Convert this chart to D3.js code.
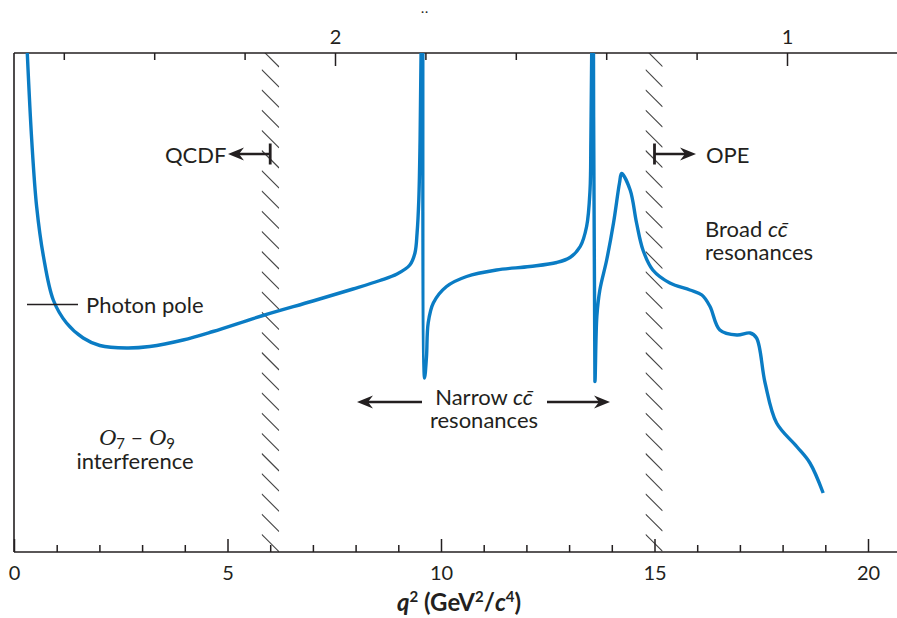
<!DOCTYPE html>
<html><head><meta charset="utf-8">
<script src="https://cdn.jsdelivr.net/npm/d3@7"></script>
<style>
body{margin:0;background:#fff}
svg{display:block}
text{font-family:Lato,"Noto Sans",sans-serif;fill:#231f20}
</style>
</head><body>
<svg id="c" width="897" height="618"></svg>
<script>
// ---- data (y in arbitrary units 0..100) ----
const q2 = [0.31,0.415,0.53,0.69,0.92,1.23,1.62,2.01,2.64,3.18,3.96,4.66,5.83,7.00,7.94,8.57,8.97,9.27,9.39,9.44,9.48,9.51,9.54,9.57,
            9.615,9.66,9.70,9.82,10.13,10.60,11.30,12.08,12.71,13.02,13.26,13.41,13.49,13.51,13.535,13.56,
            13.605,13.65,13.72,13.88,14.04,14.18,14.23,14.43,14.58,14.73,14.96,15.36,15.83,16.11,16.30,16.53,16.93,17.24,17.39,17.59,17.86,18.33,18.64,18.95];
const rate = [100,82.4,69.1,59.1,50.4,45.8,42.8,41.3,40.8,41.1,42.4,44.1,47.3,50.2,52.6,54.3,55.6,57.4,59.8,63.8,70.4,82.4,105,140,
            34.8,39,45.8,49.8,53.1,55.1,56.4,57.1,57.9,58.9,61.1,65.1,72.4,82.4,105,140,
            34.1,47.1,52.4,58.4,65.8,73.8,75.7,72.4,65.8,60.4,56.4,53.8,52.4,51.4,49.1,44.4,43.4,43.8,42.8,33.8,25.8,21.1,17.8,11.8];
const bottomMajor = [0,5,10,15,20];
const bottomMinor = [1,2,3,4,6,7,8,9,11,12,13,14,16,17,18,19];
const topMajor = [2,1];
const topMinor = [2.6,2.4,2.2,1.8,1.6,1.4,1.2];
const bands = [[5.80,6.21],[14.79,15.19]];
const cutLimits = [6,15];

// ---- layout ----
const svg = d3.select("#c");
const L = 14, R = 897, T = 53, B = 552;
const x = d3.scaleLinear([0,20],[14,868]);
const y = d3.scaleLinear([0,100],[552,52]);
const xTop = d3.scaleLinear([2,1],[335,787]);
const ink = "#231f20";
const blue = "#0a7cc4";

// hatched bands
const defs = svg.append("defs");
bands.forEach((b,i)=>{
  const x0 = x(b[0]), x1 = x(b[1]), w = x1-x0;
  defs.append("clipPath").attr("id","bc"+i).append("rect")
    .attr("x",x0).attr("y",T).attr("width",w).attr("height",B-T);
  const g = svg.append("g").attr("clip-path",`url(#bc${i})`);
  for (let yy = 49.5-20.2; yy < B+20; yy += 20.2) {
    g.append("line").attr("x1",x0).attr("y1",yy).attr("x2",x1).attr("y2",yy+w)
      .attr("stroke","#444").attr("stroke-width",1.1);
  }
});

// frame lines
svg.append("line").attr("x1",L).attr("x2",R).attr("y1",B).attr("y2",B).attr("stroke",ink).attr("stroke-width",1.6);
svg.append("line").attr("x1",L).attr("x2",R).attr("y1",T).attr("y2",T).attr("stroke",ink).attr("stroke-width",1.6);
svg.append("line").attr("x1",L).attr("x2",L).attr("y1",T).attr("y2",B).attr("stroke",ink).attr("stroke-width",1.6);

// bottom axis
const gb = svg.append("g").attr("transform",`translate(0,${B})`);
gb.call(d3.axisBottom(x).tickValues(bottomMinor).tickSize(-7).tickFormat(""));
gb.call(g=>g.select(".domain").remove());
const gb2 = svg.append("g").attr("transform",`translate(0,${B})`);
gb2.call(d3.axisBottom(x).tickValues(bottomMajor).tickSize(-13).tickFormat(d3.format("d")));
gb2.call(g=>g.select(".domain").remove());
gb2.selectAll("text").attr("dy",null).attr("y",28).attr("font-size",20).attr("font-family","Lato").attr("fill",ink);

// top axis
const gt = svg.append("g").attr("transform",`translate(0,${T})`);
gt.call(d3.axisTop(xTop).tickValues(topMinor).tickSize(-7).tickFormat(""));
gt.call(g=>g.select(".domain").remove());
const gt2 = svg.append("g").attr("transform",`translate(0,${T})`);
gt2.call(d3.axisTop(xTop).tickValues(topMajor).tickSize(-13).tickFormat(d3.format("d")));
gt2.call(g=>g.select(".domain").remove());
gt2.selectAll("text").attr("dy",null).attr("y",-9).attr("font-size",20).attr("font-family","Lato").attr("fill",ink);
svg.selectAll("g.tick line").attr("stroke",ink).attr("stroke-width",1.5);

// small cut-off mark at the top
svg.append("text").attr("x",425).attr("y",16).attr("text-anchor","middle")
  .attr("font-size",12).attr("letter-spacing",1).text("··");

// axis title
const title = svg.append("text").attr("x",459).attr("y",611).attr("text-anchor","middle")
  .attr("font-size",24).attr("font-weight","bold");
title.append("tspan").attr("font-style","italic").text("q");
title.append("tspan").attr("font-size",15).attr("dy",-9).text("2");
title.append("tspan").attr("dy",9).text(" (GeV");
title.append("tspan").attr("font-size",15).attr("dy",-9).text("2");
title.append("tspan").attr("dy",9).text("/");
title.append("tspan").attr("font-style","italic").text("c");
title.append("tspan").attr("font-size",15).attr("dy",-9).text("4");
title.append("tspan").attr("dy",9).text(")");

// curve
defs.append("clipPath").attr("id","plot").append("rect")
  .attr("x",L).attr("y",T).attr("width",R-L).attr("height",B-T);
const pts = q2.map((q,i)=>[q,rate[i]]);
svg.append("path").attr("clip-path","url(#plot)")
  .attr("d", d3.line().x(d=>x(d[0])).y(d=>y(d[1])).curve(d3.curveCatmullRom.alpha(0.5))(pts))
  .attr("fill","none").attr("stroke",blue).attr("stroke-width",3.4).attr("stroke-linejoin","round");

// arrows
function arrow(x1, x2, yy, bar){
  const dir = Math.sign(x2-x1);
  svg.append("line").attr("x1",x1).attr("x2",x2-dir*9).attr("y1",yy).attr("y2",yy)
    .attr("stroke",ink).attr("stroke-width",2.6);
  svg.append("path").attr("d",`M${x2},${yy} L${x2-dir*16},${yy-6.5} L${x2-dir*11},${yy} L${x2-dir*16},${yy+6.5} Z`)
    .attr("fill",ink);
  if (bar) svg.append("line").attr("x1",x1).attr("x2",x1).attr("y1",yy-10.5).attr("y2",yy+10.5)
    .attr("stroke",ink).attr("stroke-width",2.8);
}
arrow(x(cutLimits[0]), 228, 154, true);
arrow(x(cutLimits[1]), 696, 154, true);
arrow(422, 357, 402, false);
arrow(547, 610, 402, false);

// labels
const fs = 22;
svg.append("text").attr("x",165).attr("y",163).attr("font-size",fs).text("QCDF");
svg.append("text").attr("x",706).attr("y",163).attr("font-size",fs).text("OPE");
const br = svg.append("text").attr("x",705).attr("y",237).attr("font-size",fs);
br.append("tspan").text("Broad ");
br.append("tspan").attr("font-style","italic").text("cc\u0304");
svg.append("text").attr("x",705).attr("y",260).attr("font-size",fs).text("resonances");

svg.append("line").attr("x1",27).attr("x2",78).attr("y1",304.5).attr("y2",304.5).attr("stroke",ink).attr("stroke-width",1.4);
svg.append("text").attr("x",86).attr("y",312.5).attr("font-size",fs).text("Photon pole");

const nr = svg.append("text").attr("x",484).attr("y",405).attr("text-anchor","middle").attr("font-size",fs);
nr.append("tspan").text("Narrow ");
nr.append("tspan").attr("font-style","italic").text("cc\u0304");
svg.append("text").attr("x",484).attr("y",428).attr("text-anchor","middle").attr("font-size",fs).text("resonances");

const oo = svg.append("text").attr("x",137).attr("y",445).attr("text-anchor","middle").attr("font-size",fs);
oo.append("tspan").attr("font-family","'Liberation Serif',serif").attr("font-style","italic").attr("font-size",24).text("O");
oo.append("tspan").attr("font-size",15).attr("dy",4).text("7");
oo.append("tspan").attr("dy",-4).text(" – ");
oo.append("tspan").attr("font-family","'Liberation Serif',serif").attr("font-style","italic").attr("font-size",24).text("O");
oo.append("tspan").attr("font-size",15).attr("dy",4).text("9");
svg.append("text").attr("x",135).attr("y",469).attr("text-anchor","middle").attr("font-size",fs).text("interference");
</script>
</body></html>
